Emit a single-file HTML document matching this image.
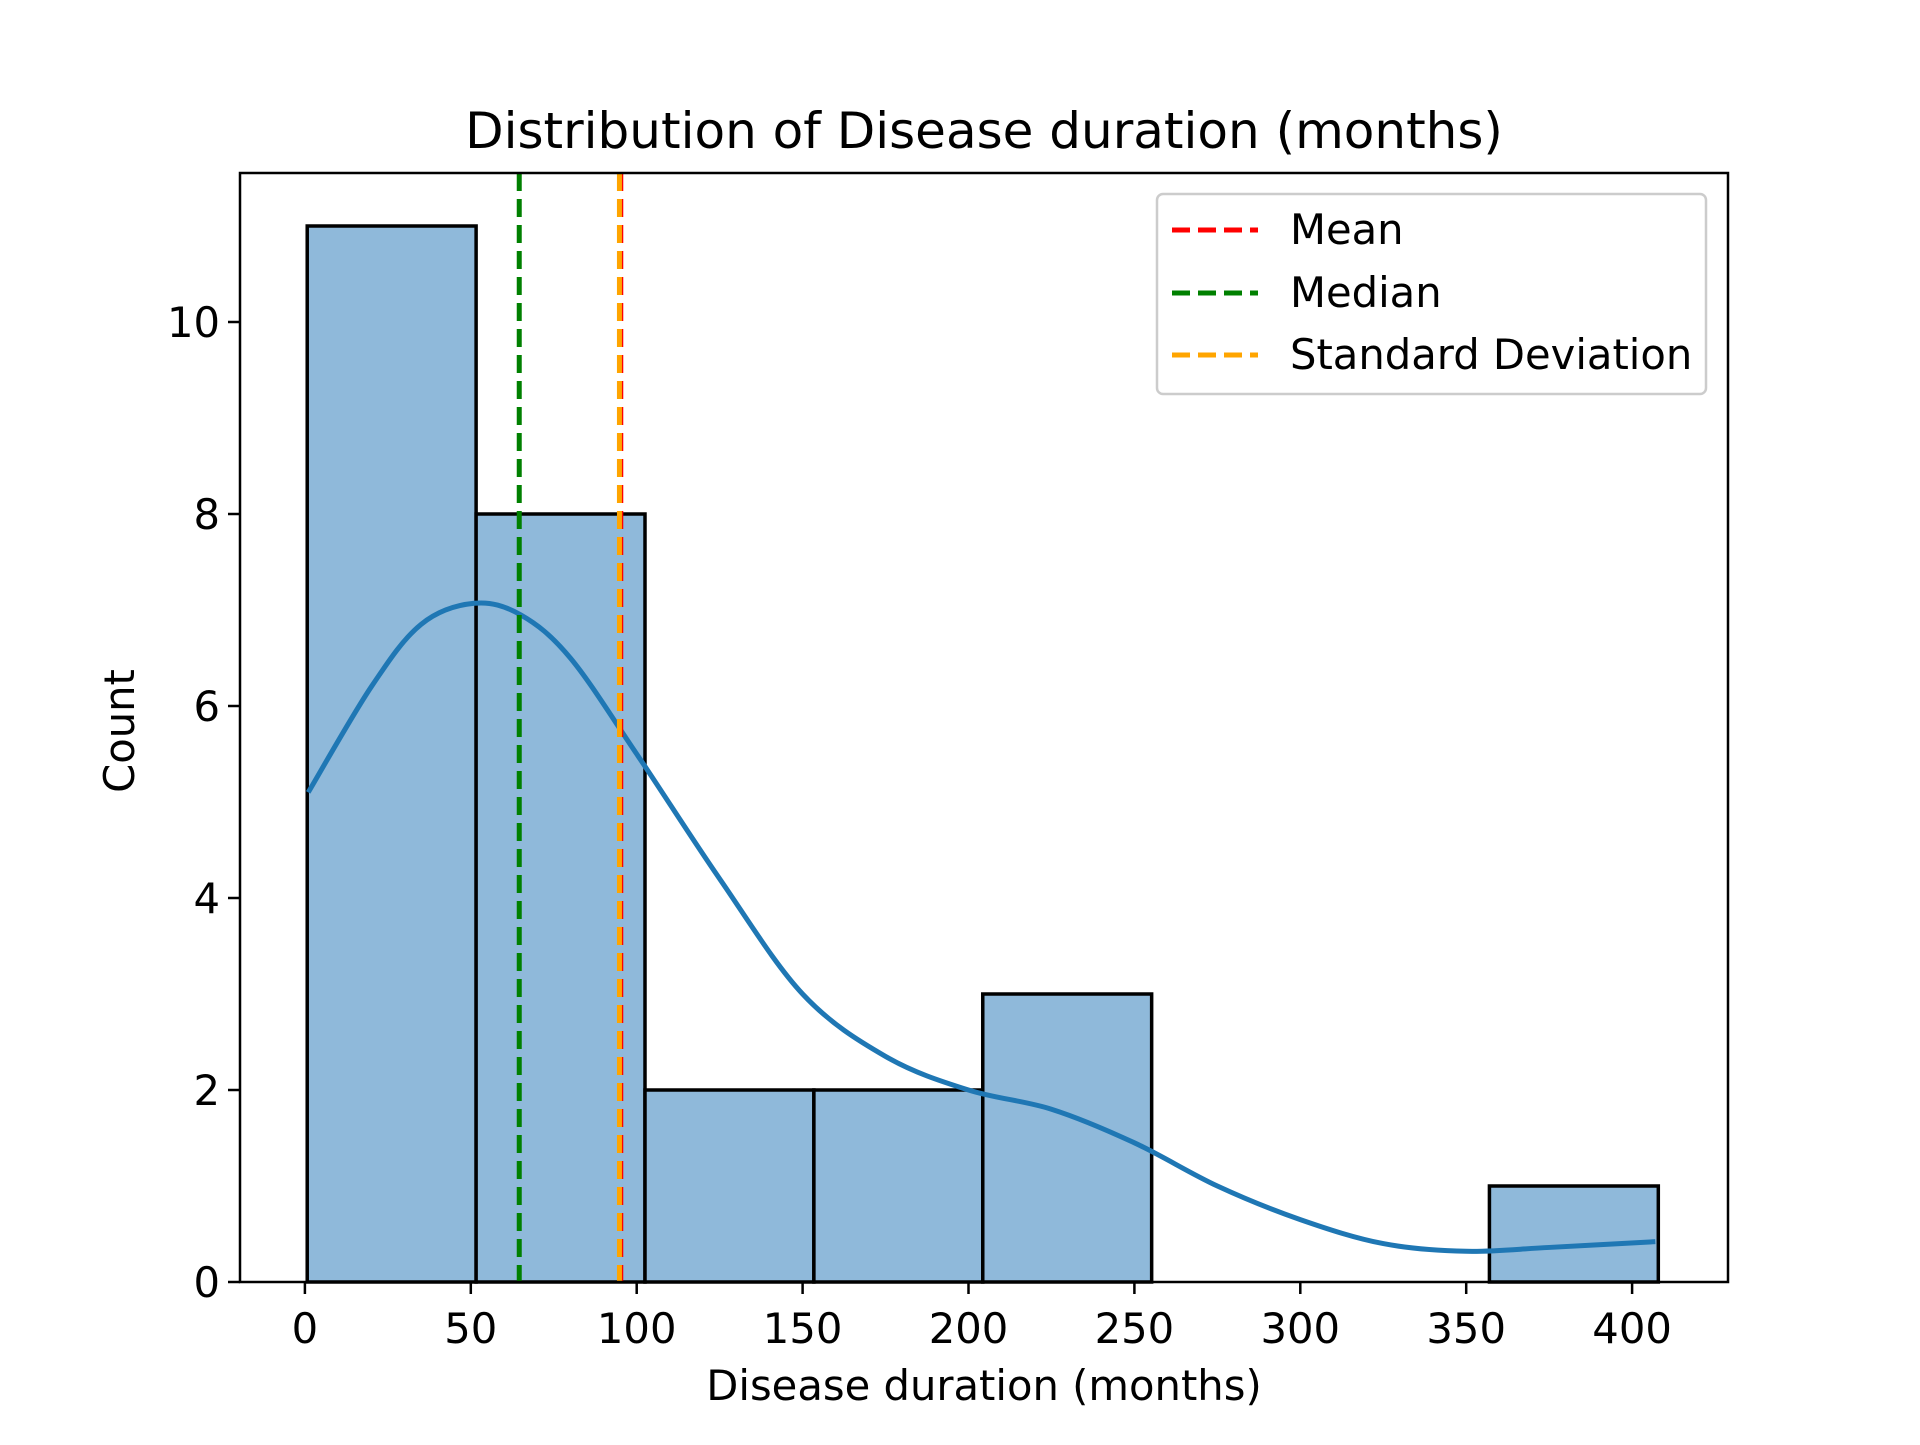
<!DOCTYPE html>
<html><head><meta charset="utf-8"><style>
body{margin:0;background:#fff}
svg text{font-family:"DejaVu Sans","Liberation Sans",sans-serif;fill:#000}
</style></head><body>
<svg id="chart" width="1920" height="1440" viewBox="0 0 1920 1440" xmlns="http://www.w3.org/2000/svg">
<rect width="1920" height="1440" fill="#fff"/>
<g id="plot"></g>
<text x="984" y="148" font-size="50" text-anchor="middle">Distribution of Disease duration (months)</text>
<text x="984" y="1400" font-size="41.7" text-anchor="middle">Disease duration (months)</text>
<text transform="translate(134,731) rotate(-90)" font-size="41.7" text-anchor="middle">Count</text>
<g>
<rect x="1157" y="194" width="549" height="200" rx="6" fill="#fff" fill-opacity="0.8" stroke="#ccc" stroke-width="2.5"/>
<line x1="1172" y1="230" x2="1258" y2="230" stroke="red" stroke-width="5" stroke-dasharray="18,8"/>
<text x="1290" y="244" font-size="41.7">Mean</text>
<line x1="1172" y1="293" x2="1258" y2="293" stroke="green" stroke-width="5" stroke-dasharray="18,8"/>
<text x="1290" y="307" font-size="41.7">Median</text>
<line x1="1172" y1="355" x2="1258" y2="355" stroke="orange" stroke-width="5" stroke-dasharray="18,8"/>
<text x="1290" y="369" font-size="41.7">Standard Deviation</text>
</g>
</svg>
<script>
const binEdges=[0.7,51.6,102.5,153.4,204.3,255.2,306.1,357,407.9];
const counts=[11,8,2,2,3,0,0,1];
const kdeX=[1,20,35,51,65,80,100,125,150,175,200,225,250,275,300,325,350,375,407];
const kdeY=[5.1,6.2,6.85,7.07,6.95,6.5,5.5,4.2,3.0,2.35,2.0,1.8,1.45,1.0,0.65,0.4,0.32,0.36,0.42];
const xTicks=[0,50,100,150,200,250,300,350,400];
const yTicks=[0,2,4,6,8,10];
const meanVal=95.2, medianVal=64.6, stdVal=94.8;
const L=240,R=1728,T=173,B=1282;
const sx=v=>304.9+v*3.318;
const sy=v=>B-v*96;
const NS="http://www.w3.org/2000/svg";
const g=document.getElementById('plot');
function mk(tag,attrs){const e=document.createElementNS(NS,tag);for(const k in attrs)e.setAttribute(k,attrs[k]);g.appendChild(e);return e;}
counts.forEach((c,i)=>{
  const r=mk('rect',{x:sx(binEdges[i]),y:sy(c),width:sx(binEdges[i+1])-sx(binEdges[i]),height:B-sy(c),fill:'#8fb9da',stroke:'#000','stroke-width':3.5});
  
  
});
const pts=kdeX.map((x,i)=>[sx(x),sy(kdeY[i])]);
let d=`M${pts[0][0]},${pts[0][1]}`;
for(let i=0;i<pts.length-1;i++){
  const p0=pts[Math.max(0,i-1)],p1=pts[i],p2=pts[i+1],p3=pts[Math.min(pts.length-1,i+2)];
  const c1=[p1[0]+(p2[0]-p0[0])/6,p1[1]+(p2[1]-p0[1])/6];
  const c2=[p2[0]-(p3[0]-p1[0])/6,p2[1]-(p3[1]-p1[1])/6];
  d+=` C${c1[0]},${c1[1]} ${c2[0]},${c2[1]} ${p2[0]},${p2[1]}`;
}
const kde=mk('path',{d:d,fill:'none',stroke:'#1f77b4','stroke-width':5});


[[meanVal,'red','mean-line'],[medianVal,'green','median-line'],[stdVal,'orange','std-line']].forEach(([v,c,n])=>{
  const l=mk('line',{x1:sx(v),x2:sx(v),y1:T,y2:B,stroke:c,'stroke-width':5,'stroke-dasharray':'18,8'});
  
  
});
const frame=mk('rect',{x:L,y:T,width:R-L,height:B-T,fill:'none',stroke:'#000','stroke-width':2.5});


xTicks.forEach(v=>{
  mk('line',{x1:sx(v),x2:sx(v),y1:B,y2:B+12,stroke:'#000','stroke-width':2.5});
  const t=mk('text',{x:sx(v),y:B+61,'font-size':41.7,'text-anchor':'middle'});
  t.textContent=v;
  
  
});
yTicks.forEach(v=>{
  mk('line',{x1:L-12,x2:L,y1:sy(v),y2:sy(v),stroke:'#000','stroke-width':2.5});
  const t=mk('text',{x:L-20,y:sy(v)+15,'font-size':41.7,'text-anchor':'end'});
  t.textContent=v;
  
  
});
</script>
</body></html>
